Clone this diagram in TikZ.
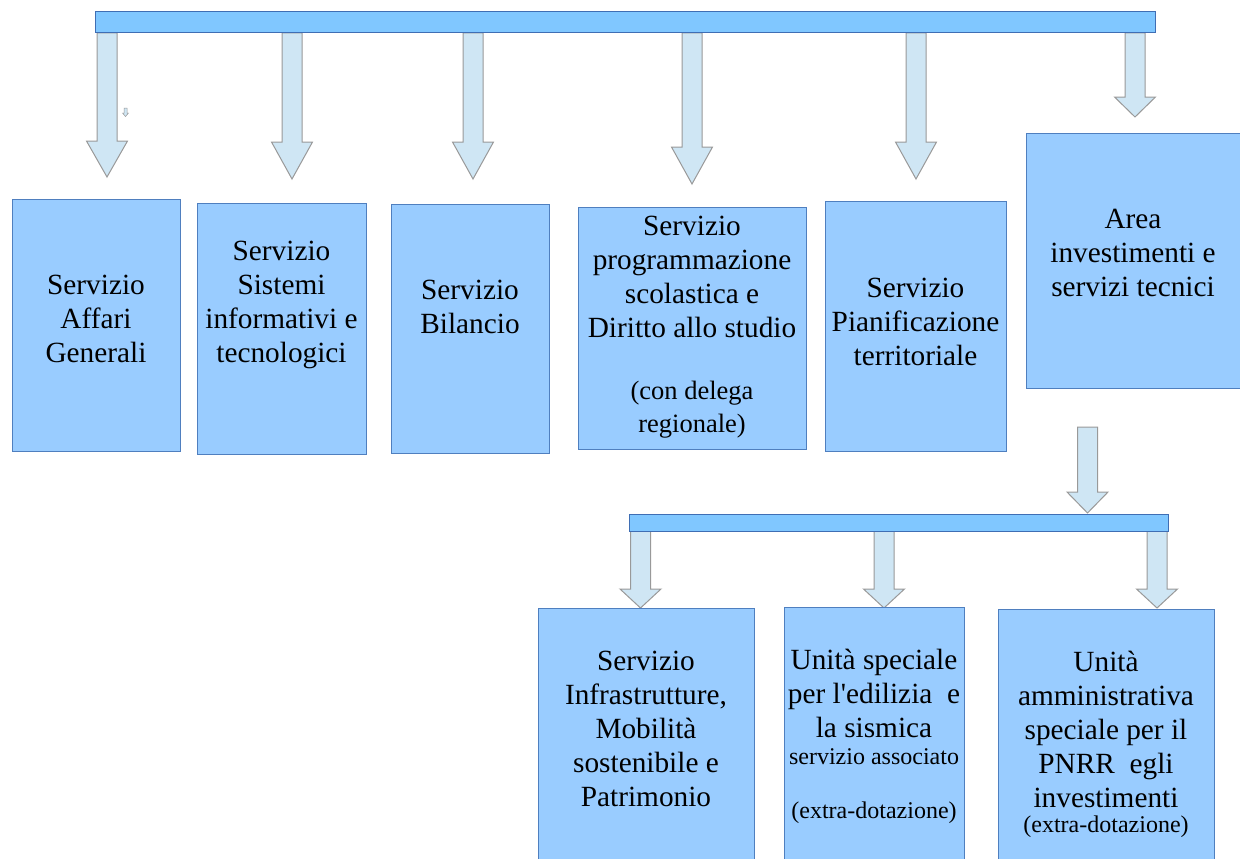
\documentclass[tikz,border=0pt]{standalone}
\usepackage{fontspec}
\setmainfont{Liberation Serif}
\newfontfamily\timesfont{Liberation Serif}
\definecolor{barblue}{HTML}{80C7FF}
\definecolor{barline}{HTML}{3F6EB4}
\definecolor{unitblue}{HTML}{99CCFF}
\definecolor{unitline}{HTML}{4F7FBF}
\definecolor{arrowfill}{HTML}{CFE6F4}
\definecolor{arrowline}{HTML}{999999}
% block arrow: x, top, start of head, tip
\newcommand\blockarrow[4]{\filldraw[arrowbody] (#1-10,#2) -- (#1-10,#3) -- (#1-20.5,#3) -- (#1,#4) -- (#1+20.5,#3) -- (#1+10,#3) -- (#1+10,#2) -- cycle;}
\begin{document}
\begin{tikzpicture}[x=1pt, y=-1pt,
    bar/.style = {draw=barline, fill=barblue, line width=1pt, inner sep=0pt},
    unit/.style = {draw=unitline, fill=unitblue, line width=1pt, inner sep=0pt},
    arrowbody/.style = {draw=arrowline, fill=arrowfill, line width=1pt, line join=miter},
    txt/.style = {align=center, inner sep=0pt, font=\timesfont\fontsize{29.3}{34}\selectfont},
    note/.style = {align=center, inner sep=0pt, font=\timesfont\fontsize{24}{28}\selectfont}]
  \useasboundingbox (0,0) rectangle (1240,859);
  \clip (0,0) rectangle (1240,859);
  % arrows
  \blockarrow{107}{33}{141}{177}
  \blockarrow{292}{33}{142}{179}
  \blockarrow{473}{33}{142}{179}
  \blockarrow{692}{33}{147}{184}
  \blockarrow{916}{33}{142}{179}
  \blockarrow{1135}{33}{97}{117}
  \blockarrow{1087.5}{427}{492}{513}
  \blockarrow{640.5}{530}{589}{608}
  \blockarrow{884}{530}{589}{608}
  \blockarrow{1157}{530}{589}{608}
  \filldraw[arrowbody, line width=0.5pt] (124,108) -- (124,113) -- (122.5,113) -- (125.5,116.5) -- (128.5,113) -- (127,113) -- (127,108) -- cycle;
  % bars
  \node[bar, minimum width=1060pt, minimum height=21pt] (topbar) at (625,22.5) {};
  \node[bar, minimum width=539pt, minimum height=17pt] (areabar) at (898.5,522.5) {};
  % first level
  \node[unit, minimum width=168pt, minimum height=252pt] (affari) at (96,325) {};
  \node[unit, minimum width=169pt, minimum height=251pt] (sistemi) at (281.5,328.5) {};
  \node[unit, minimum width=158pt, minimum height=249pt] (bilancio) at (470,328.5) {};
  \node[unit, minimum width=228pt, minimum height=242pt] (scuola) at (692,328) {};
  \node[unit, minimum width=181pt, minimum height=250pt] (pianif) at (915.5,326) {};
  \node[unit, minimum width=219pt, minimum height=255pt] (area) at (1135.5,260.5) {};
  \node[txt] (affari-t) at (96,318.5) {Servizio\\Affari\\Generali};
  \node[txt] (sistemi-t) at (281.5,305) {Servizio\\Sistemi\\informativi e\\tecnologici};
  \node[txt] (bilancio-t) at (470,306.5) {Servizio\\Bilancio};
  \node[txt] (scuola-t) at (692,276.5) {Servizio\\programmazione\\scolastica e\\Diritto allo studio};
  \node[txt, font=\timesfont\fontsize{26.5}{33}\selectfont] (scuola-n) at (692,409.5) {(con delega\\regionale)};
  \node[txt] (pianif-t) at (915.5,321.5) {Servizio\\Pianificazione\\territoriale};
  \node[txt] (area-t) at (1133,253) {Area\\investimenti e\\servizi tecnici};
  % second level
  \node[unit, minimum width=216pt, minimum height=262pt] (infra) at (646,739) {};
  \node[unit, minimum width=180pt, minimum height=263pt] (edil) at (874,738.5) {};
  \node[unit, minimum width=216pt, minimum height=261pt] (pnrr) at (1106,739.5) {};
  \node[txt] (infra-t) at (646,728.5) {Servizio\\Infrastrutture,\\Mobilità\\sostenibile e\\Patrimonio};
  \node[txt] (edil-t) at (874,693.5) {Unità speciale\\per l\textquotesingle edilizia~ e\\la sismica};
  \node[note] (edil-s) at (874,757) {servizio associato};
  \node[note] (edil-n) at (874,813) {(extra-dotazione)};
  \node[txt] (pnrr-t) at (1106,729.5) {Unità\\amministrativa\\speciale per il\\PNRR~ egli\\investimenti};
  \node[note] (pnrr-n) at (1106,827) {(extra-dotazione)};
\end{tikzpicture}
\end{document}
